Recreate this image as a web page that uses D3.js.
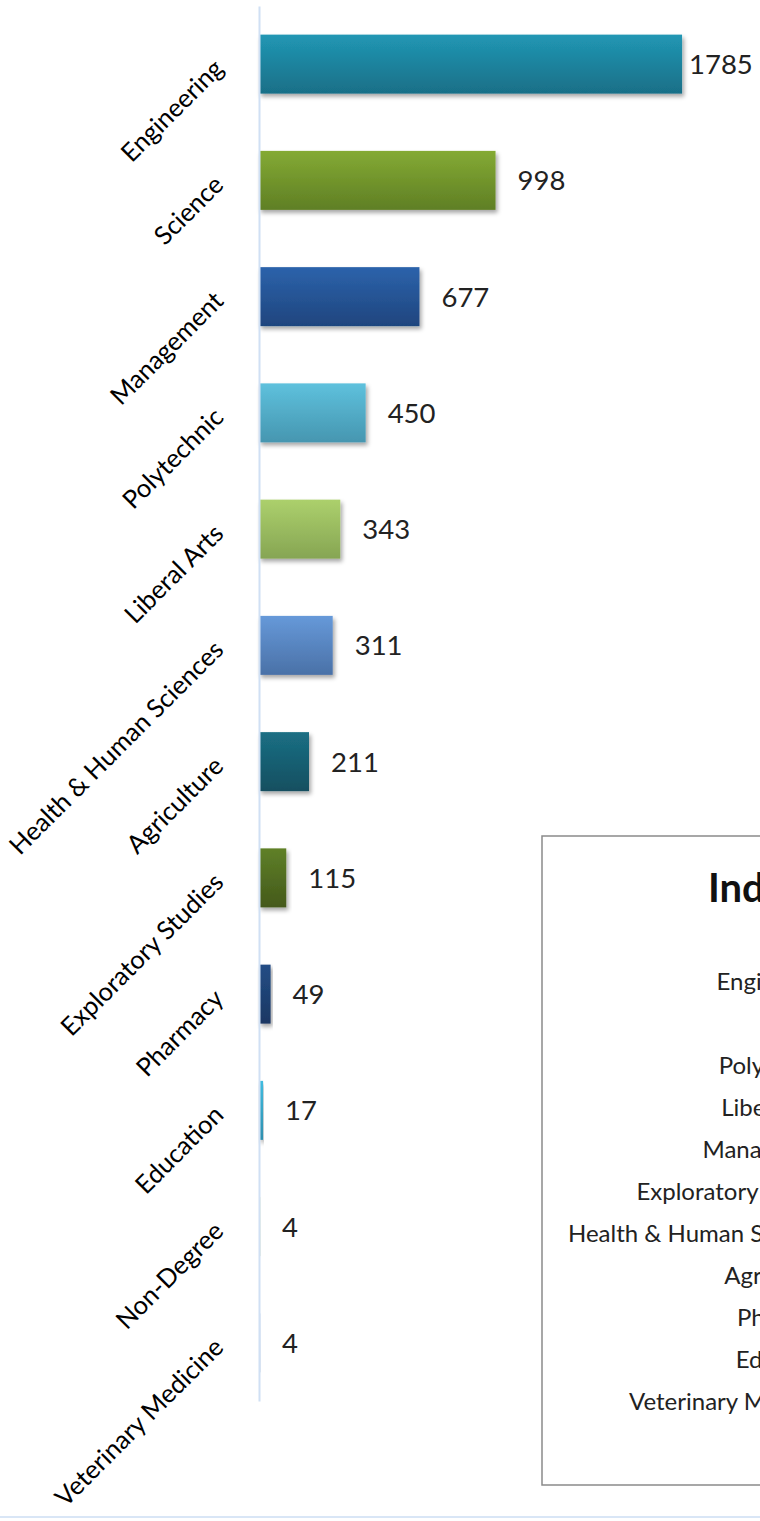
<!DOCTYPE html>
<html>
<head>
<meta charset="utf-8">
<script src="https://cdn.jsdelivr.net/npm/d3@7"></script>
<style>
  html, body { margin: 0; padding: 0; background: #fff; }
  svg { display: block; font-family: Lato, 'Open Sans', sans-serif; }
</style>
</head>
<body>
<svg id="chart" width="760" height="1521"></svg>
<script>
const colleges = ['Engineering', 'Science', 'Management', 'Polytechnic', 'Liberal Arts',
  'Health & Human Sciences', 'Agriculture', 'Exploratory Studies', 'Pharmacy',
  'Education', 'Non-Degree', 'Veterinary Medicine'];
const students = [1785, 998, 677, 450, 343, 311, 211, 115, 49, 17, 4, 4];

// gradient top / bottom per bar
const barTop = ['#2197b4', '#84aa33', '#2c63ab', '#5ec1dd', '#acd06c', '#6699d9',
  '#1b6f84', '#5f8028', '#234d85', '#40bce0', '#b5cf8c', '#86a8d8'];
const barBottom = ['#196f87', '#5f7f25', '#1f457e', '#4696b0', '#86a553', '#4a71a7',
  '#134f60', '#44591b', '#1a3763', '#2e8fae', '#8fa86a', '#5f80b0'];

const boxTitle = 'Ind';
const boxRows = ['Engineering', 'Science', 'Polytechnic', 'Liberal Arts', 'Management',
  'Exploratory Studies', 'Health & Human Sciences', 'Agriculture', 'Pharmacy',
  'Education', 'Veterinary Medicine'];

const data = colleges.map((c, i) => ({ name: c, value: students[i], i: i }));

const svg = d3.select('#chart');
const defs = svg.append('defs');

defs.append('filter').attr('id', 'shadow')
  .attr('x', '-10%').attr('y', '-10%').attr('width', '130%').attr('height', '140%')
  .append('feDropShadow')
  .attr('dx', 2).attr('dy', 3).attr('stdDeviation', 2)
  .attr('flood-color', '#000').attr('flood-opacity', 0.35);

defs.selectAll('linearGradient').data(data).join('linearGradient')
  .attr('id', d => `grad${d.i}`)
  .attr('x1', 0).attr('y1', 0).attr('x2', 0).attr('y2', 1)
  .selectAll('stop').data(d => [[0, barTop[d.i]], [1, barBottom[d.i]]]).join('stop')
  .attr('offset', d => d[0]).attr('stop-color', d => d[1]);

const y = d3.scaleBand().domain(colleges).range([6, 1401])
  .paddingInner(0.4926).paddingOuter(0.2463);
const x = d3.scaleLinear().domain([0, 2000]).range([259, 733]);

// bars
svg.append('g').selectAll('rect').data(data).join('rect')
  .attr('x', x(0))
  .attr('y', d => y(d.name))
  .attr('width', d => Math.max(1.2, x(d.value) - x(0)))
  .attr('height', y.bandwidth())
  .attr('fill', d => `url(#grad${d.i})`)
  .attr('filter', d => d.value > 10 ? 'url(#shadow)' : null);

// category axis
const axis = svg.append('g').attr('transform', `translate(${x(0)},0)`)
  .call(d3.axisLeft(y).tickSize(0).tickPadding(0));
axis.select('.domain').attr('stroke', '#d0e0f4').attr('stroke-width', 2);
axis.selectAll('.tick text')
  .attr('font-family', 'Lato, sans-serif')
  .attr('font-size', 25.5)
  .attr('fill', '#000')
  .attr('text-anchor', 'end')
  .attr('x', null).attr('dy', null)
  .attr('transform', 'translate(-34,6) rotate(-45)');

// value labels
svg.append('g').selectAll('text').data(data).join('text')
  .attr('x', d => Math.min(x(d.value) + 22, 689))
  .attr('y', d => y(d.name) + y.bandwidth() / 2)
  .attr('dy', '0.36em')
  .attr('font-size', 27.5)
  .attr('fill', '#222')
  .text(d => d.value);

// text box in the lower right
const box = svg.append('g');
box.append('rect')
  .attr('x', 542).attr('y', 836).attr('width', 400).attr('height', 649)
  .attr('fill', '#fff').attr('stroke', '#8a8a8a').attr('stroke-width', 1.5);

box.append('text')
  .attr('x', 708).attr('y', 902)
  .attr('font-size', 40).attr('font-weight', 'bold').attr('fill', '#111')
  .text(boxTitle);

const rows = box.append('g').attr('font-size', 24).attr('fill', '#222')
  .attr('text-anchor', 'end');
const rowText = rows.selectAll('text').data(boxRows).join('text')
  .attr('y', (d, i) => 990 + i * 42)
  .text(d => d);
const longest = rowText.filter(d => d === 'Health & Human Sciences').node().getComputedTextLength();
rowText.attr('x', 568 + longest);

// frame edge at the bottom
svg.append('line')
  .attr('x1', 0).attr('x2', 760).attr('y1', 1517).attr('y2', 1517)
  .attr('stroke', '#d9e6f6').attr('stroke-width', 2);
</script>
</body>
</html>
